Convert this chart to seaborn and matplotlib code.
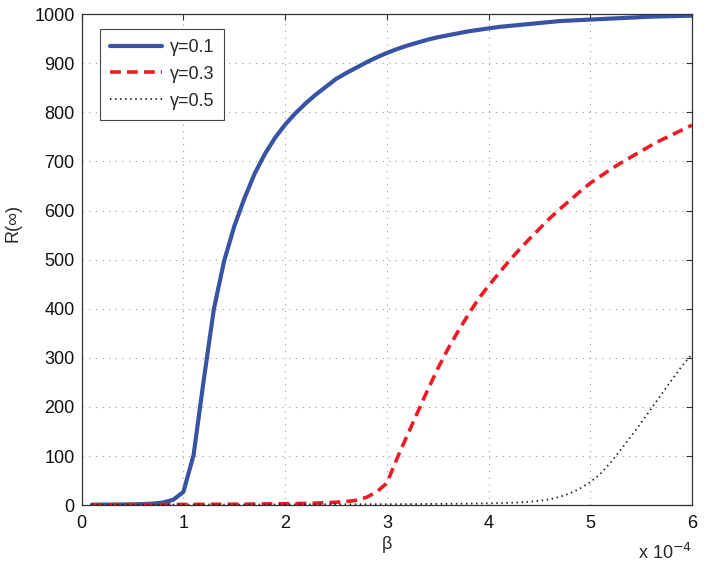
import matplotlib
matplotlib.use('Agg')
import matplotlib.pyplot as plt
import seaborn as sns
import pandas as pd

# beta in units of 1e-4
beta = [0.1, 0.2, 0.3, 0.4, 0.5, 0.6, 0.7, 0.8, 0.9, 1.0,
        1.1, 1.2, 1.3, 1.4, 1.5, 1.6, 1.7, 1.8, 1.9, 2.0,
        2.1, 2.2, 2.3, 2.4, 2.5, 2.6, 2.7, 2.8, 2.9, 3.0,
        3.1, 3.2, 3.3, 3.4, 3.5, 3.6, 3.7, 3.8, 3.9, 4.0,
        4.1, 4.2, 4.3, 4.4, 4.5, 4.6, 4.7, 4.8, 4.9, 5.0,
        5.1, 5.2, 5.3, 5.4, 5.5, 5.6, 5.7, 5.8, 5.9, 6.0]

r_g01 = [1.0, 1.1, 1.2, 1.4, 1.7, 2.2, 3.2, 5.5, 11, 27,
         102, 255, 400, 497, 568, 625, 675, 715, 748, 775,
         798, 818, 836, 852, 868, 880, 891, 902, 912, 921,
         929, 936, 942, 948, 953, 957, 961, 965, 968, 971,
         974, 976, 978, 980, 982, 984, 986, 987, 988, 989,
         990, 991, 992, 993, 994, 995, 995.5, 996, 996.5, 997]

r_g03 = [1.0, 1.0, 1.1, 1.1, 1.2, 1.2, 1.3, 1.3, 1.4, 1.5,
         1.6, 1.7, 1.8, 1.9, 2.0, 2.1, 2.3, 2.5, 2.7, 3.0,
         3.3, 3.7, 4.2, 5.0, 6.0, 7.5, 10, 16, 27, 45,
         95, 142, 188, 234, 278, 318, 354, 388, 420, 447,
         472, 497, 520, 542, 563, 584, 603, 621, 639, 656,
         670, 684, 697, 709, 721, 733, 744, 754, 764, 774]

r_g05 = [1.0, 1.0, 1.0, 1.0, 1.1, 1.1, 1.1, 1.1, 1.2, 1.2,
         1.2, 1.2, 1.3, 1.3, 1.3, 1.4, 1.4, 1.4, 1.5, 1.5,
         1.6, 1.6, 1.7, 1.7, 1.8, 1.8, 1.9, 1.9, 2.0, 2.0,
         2.1, 2.2, 2.3, 2.5, 2.6, 2.8, 3.0, 3.2, 3.5, 3.8,
         4.2, 4.8, 5.6, 7, 9, 12, 17, 24, 34, 47,
         64, 87, 113, 140, 168, 197, 226, 255, 283, 308]

labels = ['γ=0.1', 'γ=0.3', 'γ=0.5']

df = pd.DataFrame({'beta': beta, 'g01': r_g01, 'g03': r_g03, 'g05': r_g05})

sns.set_style('white')
plt.rcParams['font.family'] = ['Liberation Sans', 'DejaVu Sans']
plt.rcParams['font.size'] = 13

fig = plt.figure(figsize=(7.04, 5.67), dpi=100)
ax = fig.add_axes([0.116, 0.109, 0.867, 0.866])

sns.lineplot(data=df, x='beta', y='g01', ax=ax, color='#3853a4', linewidth=3,
             label=labels[0])
sns.lineplot(data=df, x='beta', y='g03', ax=ax, color='#ed1c24', linewidth=2.6,
             linestyle=(0, (3.0, 1.7)), label=labels[1])
sns.lineplot(data=df, x='beta', y='g05', ax=ax, color='#1a1a1a', linewidth=1.3,
             linestyle=(0, (0.8, 2.0)), label=labels[2])

ax.set_xlim(0, 6)
ax.set_ylim(0, 1000)
ax.set_xticks([0, 1, 2, 3, 4, 5, 6])
ax.set_yticks(range(0, 1001, 100))

ax.grid(True, color='#999999', linestyle=(0, (1, 5)), linewidth=0.8)
for s in ax.spines.values():
    s.set_color('#333333')
    s.set_linewidth(0.9)
    s.set_visible(True)
ax.tick_params(direction='in', length=4, width=0.8, color='#333333',
               top=True, right=True, labelsize=13, labelcolor='#111111')
ax.tick_params(axis='x', pad=7)
ax.tick_params(axis='y', pad=5)

ax.set_xlabel('β', fontsize=13)
ax.set_ylabel('R(∞)', fontsize=13)
ax.xaxis.set_label_coords(0.5, -0.062)
ax.yaxis.set_label_coords(-0.098, 0.575)

ax.text(1.0, -0.098, 'x 10$^{-4}$', transform=ax.transAxes, ha='right',
        va='center', fontsize=13)

leg = ax.legend(loc='upper left', bbox_to_anchor=(0.03, 0.97), borderaxespad=0,
                fontsize=13, handlelength=2.9, labelspacing=0.55,
                fancybox=False, framealpha=1, edgecolor='#444444',
                handletextpad=0.4, borderpad=0.55)
leg.get_frame().set_linewidth(0.8)

fig.savefig('out.png', dpi=100)
